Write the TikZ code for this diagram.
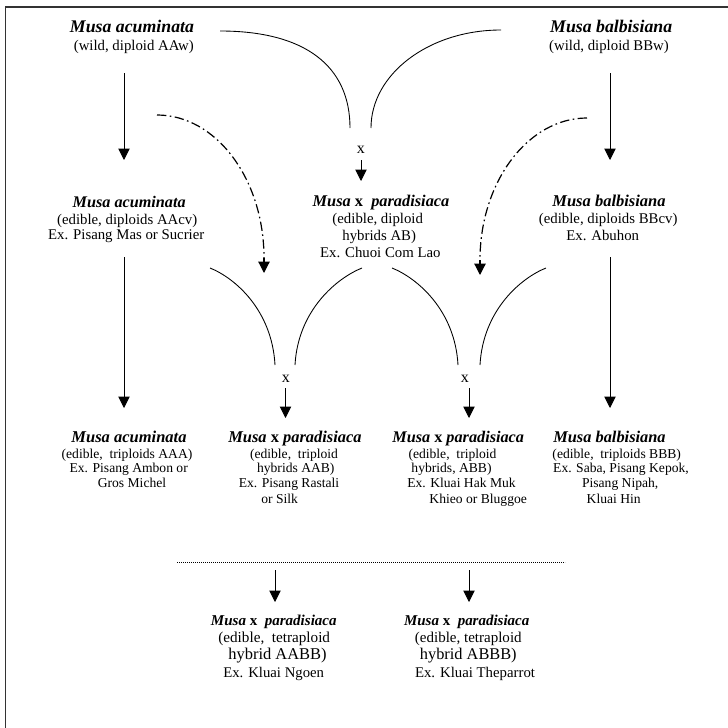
\documentclass[tikz,border=0pt]{standalone}
\usepackage{fontspec}
\setmainfont{Liberation Serif}
\usetikzlibrary{arrows.meta}
\newcommand\fitw[2]{\resizebox{\dimexpr #1pt*3/4\relax}{!}{#2}}
\newcommand\MA{\textbf{\textit{Musa acuminata}}}
\newcommand\MB{\textbf{\textit{Musa balbisiana}}}
\newcommand\MX{\textbf{\textit{Musa}} \textbf{x} \textbf{\textit{paradisiaca}}}
\newcommand\MXX{\textbf{\textit{Musa}} \textbf{x}\ \ \textbf{\textit{paradisiaca}}}
\begin{document}
\begin{tikzpicture}[x=0.75pt,y=-0.75pt,
  txt/.style={anchor=base, inner sep=0pt, font=\fontsize{11.1}{13}\selectfont},
  sml/.style={anchor=base, inner sep=0pt, font=\fontsize{10.2}{12}\selectfont},
  xl/.style={anchor=base, inner sep=0pt, font=\fontsize{12}{14}\selectfont},
  arr/.style={line width=0.65pt, -{Triangle[width=8.5pt,length=8.5pt]}},
  cross/.style={line width=0.65pt},
  dd/.style={line width=0.9pt, dash pattern=on 7pt off 2.6pt on 1.2pt off 2.6pt},
  ddh/.style={-{Triangle[width=8.5pt,length=8.5pt]}, line width=0.9pt},
  frame/.style={line width=0.8pt, draw=black!80}]
\useasboundingbox (0,0) rectangle (728,728);
\draw[frame] (5.3,740) -- (5.3,7) -- (740,7);

% top row
\node[txt] (tlT) at (132,32) {\fitw{124}{\MA}};
\node[txt] (tlW) at (133.8,50) {(wild, diploid AAw)};
\node[txt] (trT) at (611.2,32) {\fitw{122}{\MB}};
\node[txt] (trW) at (609,50) {(wild, diploid BBw)};

% middle row
\node[txt] (mlT) at (129.2,207) {\fitw{113}{\MA}};
\node[txt] (mlE) at (127.2,224) {(edible, diploids AAcv)};
\node[txt] (mlX) at (126.2,239) {Ex. Pisang Mas or Sucrier};
\node[xl] (cx) at (360.8,153) {x};
\node[txt] (mcT) at (381,206) {\fitw{136.7}{\MXX}};
\node[txt] (mcE) at (377.7,223) {(edible, diploid};
\node[txt] (mcH) at (379.2,240) {hybrids AB)};
\node[txt] (mcX) at (380.3,257) {Ex. Chuoi Com Lao};
\node[txt] (mrT) at (609,206) {\fitw{113.3}{\MB}};
\node[txt] (mrE) at (608.2,223) {(edible, diploids BBcv)};
\node[txt] (mrX) at (602.7,240) {Ex. Abuhon};

% triploid row
\node[txt] (blT) at (129,442) {\fitw{115}{\MA}};
\node[sml] (blE) at (127,458) {(edible,\ \ triploids AAA)};
\node[sml] (blX) at (128.7,472) {Ex. Pisang Ambon or};
\node[sml] (blG) at (132,487) {Gros Michel};
\node[xl] (ax) at (285.8,382) {x};
\node[txt] (aT) at (295,442) {\fitw{133.3}{\MX}};
\node[sml] (aE) at (294,458) {(edible,\ \ triploid};
\node[sml] (aH) at (295.8,472) {hybrids AAB)};
\node[sml] (aX) at (289,487) {Ex. Pisang Rastali};
\node[sml] (aS) at (279.7,503) {or Silk};
\node[xl] (bx) at (464.8,382) {x};
\node[txt] (bT) at (458.2,442) {\fitw{131.7}{\MX}};
\node[sml] (bE) at (452.5,458) {(edible,\ \ triploid};
\node[sml] (bH) at (451.5,472) {hybrids, ABB)};
\node[sml] (bX) at (461.5,487) {Ex. Kluai Hak Muk};
\node[sml] (bK) at (478.2,503) {Khieo or Bluggoe};
\node[txt] (rT) at (609.5,442) {\fitw{112.3}{\MB}};
\node[sml] (rE) at (616.7,458) {(edible,\ \ triploids BBB)};
\node[sml] (rX) at (621,472) {Ex. Saba, Pisang Kepok,};
\node[sml] (rN) at (620.2,487) {Pisang Nipah,};
\node[sml] (rH) at (613.7,503) {Kluai Hin};

% tetraploid row
\node[txt] (tAT) at (273.8,625) {\fitw{125.7}{\MXX}};
\node[txt] (tAE) at (274.2,642) {\fitw{111.7}{(edible,\ \ tetraploid}};
\node[txt] (tAH) at (277.5,659) {\fitw{98.3}{hybrid AABB)}};
\node[txt] (tAX) at (273.7,677) {\fitw{100.7}{Ex. Kluai Ngoen}};
\node[txt] (tBT) at (466.7,625) {\fitw{125.3}{\MXX}};
\node[txt] (tBE) at (468.3,642) {\fitw{106.7}{(edible, tetraploid}};
\node[txt] (tBH) at (468.3,659) {\fitw{96.7}{hybrid ABBB)}};
\node[txt] (tBX) at (475,677) {\fitw{120}{Ex. Kluai Theparrot}};

% connector coordinates
\coordinate (v1s) at (124,73);  \coordinate (v1e) at (124,160);
\coordinate (v2s) at (610,73);  \coordinate (v2e) at (610,160);
\coordinate (v3s) at (124,257); \coordinate (v3e) at (124,408);
\coordinate (v4s) at (610,257); \coordinate (v4e) at (610,408);
\coordinate (xcs) at (361,160); \coordinate (xce) at (361,181);
\coordinate (xas) at (285.5,388); \coordinate (xae) at (285.5,418);
\coordinate (xbs) at (469,388); \coordinate (xbe) at (469,418);
\coordinate (t1s) at (275,570); \coordinate (t1e) at (275,602);
\coordinate (t2s) at (469,570); \coordinate (t2e) at (469,602);
\coordinate (c1s) at (220,31);  \coordinate (c1e) at (350,128);
\coordinate (c2s) at (501,30);  \coordinate (c2e) at (371,128);
\coordinate (d1s) at (157,115); \coordinate (d1m) at (264,258); \coordinate (d1e) at (264,273);
\coordinate (d2s) at (587,118); \coordinate (d2m) at (480,260); \coordinate (d2e) at (480,275);
\coordinate (b1s) at (210,268); \coordinate (b1e) at (275,365);
\coordinate (b2s) at (362,268); \coordinate (b2e) at (295,365);
\coordinate (b3s) at (392,268); \coordinate (b3e) at (458,365);
\coordinate (b4s) at (546,268); \coordinate (b4e) at (480,365);
\coordinate (dls) at (177,562); \coordinate (dle) at (565,562);

% straight arrows
\foreach \a/\b in {v1s/v1e,v2s/v2e,v3s/v3e,v4s/v4e,xcs/xce,xas/xae,xbs/xbe,t1s/t1e,t2s/t2e}
  \draw[arr] (\a) -- (\b);

% crossing curves
\draw[cross] (c1s) .. controls (305,31) and (350,66) .. (c1e);
\draw[cross] (c2s) .. controls (429,30) and (371,74) .. (c2e);
\draw[cross] (b1s) .. controls (235,278) and (272,310) .. (b1e);
\draw[cross] (b2s) .. controls (337,278) and (298,310) .. (b2e);
\draw[cross] (b3s) .. controls (417,278) and (455,310) .. (b3e);
\draw[cross] (b4s) .. controls (521,278) and (483,310) .. (b4e);

% dash-dot arrows
\draw[dd] (d1s) .. controls (216,115) and (264,179) .. (d1m);
\draw[ddh] (d1m) -- (d1e);
\draw[dd] (d2s) .. controls (528,118) and (480,182) .. (d2m);
\draw[ddh] (d2m) -- (d2e);

% dotted separator
\draw[line width=0.5pt, dash pattern=on 0.6pt off 0.9pt] (dls) -- (dle);
\end{tikzpicture}
\end{document}
